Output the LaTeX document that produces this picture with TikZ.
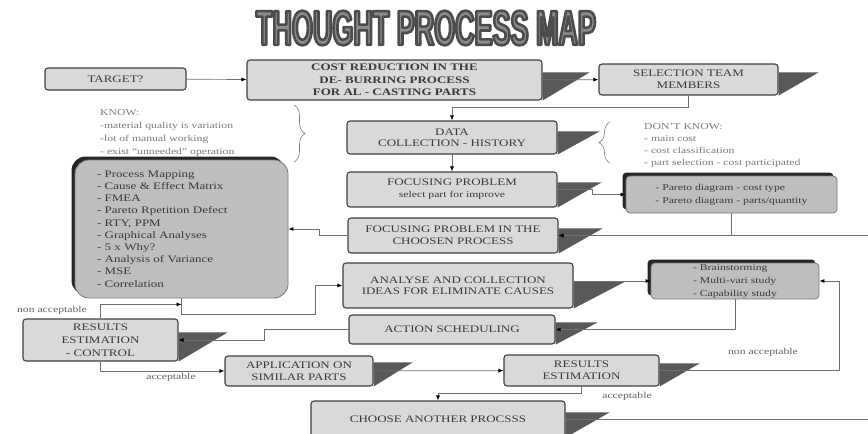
\documentclass[tikz,border=0pt]{standalone}
\usepackage{fontspec}
\setmainfont{Liberation Serif}[FakeStretch=1.3]
\newfontfamily\titlefont{Liberation Sans Bold}[FakeStretch=0.55]
\usetikzlibrary{arrows.meta,backgrounds,shadows,decorations.pathreplacing}

\definecolor{boxfill}{HTML}{D9D9D9}
\definecolor{boxline}{HTML}{404040}
\definecolor{wedgefill}{HTML}{595959}
\definecolor{listfill}{HTML}{BEBEBE}
\definecolor{wire}{HTML}{707070}
\definecolor{inktext}{HTML}{3A3A3A}
\definecolor{softtext}{HTML}{7A7A7A}
\definecolor{titleface}{HTML}{8C8C8C}

\tikzset{
  titleink/.style={inner sep=0pt, font=\titlefont\fontsize{49}{49}\selectfont},
  procbox/.style={rectangle, rounded corners=3pt, draw=boxline, line width=1.1pt, fill=boxfill,
    text=inktext, align=center, inner sep=0pt, font=\fontsize{10}{12}\selectfont},
  listbox/.style={rectangle, rounded corners=4pt, draw=boxline!70, line width=0.8pt, fill=listfill,
    text=inktext, align=left, inner sep=0pt, font=\fontsize{9}{13}\selectfont,
    drop shadow={shadow xshift=-3.5pt, shadow yshift=3.5pt, fill=black!85, opacity=1}},
  wedge/.style={fill=wedgefill},
  conn/.style={draw=wire, line width=0.7pt, -{Latex[length=5pt,width=4pt,color=black]}},
  note/.style={text=softtext, align=left, inner sep=0pt, font=\fontsize{9}{13}\selectfont},
  tag/.style={text=inktext!80, inner sep=0pt, font=\fontsize{9}{10}\selectfont},
  curly/.style={draw=softtext, line width=0.6pt, decorate, decoration={brace, amplitude=11pt}}
}

% outlined letters: grey face, dark rim
\newcommand{\rimtext}[1]{\special{pdf:literal direct 2 Tr 2.6 w 0.3 G 1 j}#1\special{pdf:literal direct 0 Tr}}
% dark wedge to the right of a box: node, drop from top, length
\newcommand{\wedgeshade}[3]{\fill[wedge] ([yshift=-#2pt]#1.north east) -- ++(#3,0) -- (#1.south east) -- cycle;}

\begin{document}
\begin{tikzpicture}[x=1pt, y=-1pt]
  \useasboundingbox (0,0) rectangle (868,434);
  \clip (0,0) rectangle (868,434);

  % TITLE
  \node[titleink, text=titleface] (title) at (426,28) {\rimtext{THOUGHT PROCESS MAP}};

  % TOP ROW
  \node[procbox, minimum width=141, minimum height=22] (target) at (115.5,79) {TARGET?};
  \node[procbox, minimum width=295, minimum height=40, font=\bfseries\fontsize{10}{12.5}\selectfont] (cost) at (394.5,80)
    {COST REDUCTION IN THE\\DE- BURRING PROCESS\\FOR AL - CASTING PARTS};
  \node[procbox, minimum width=179, minimum height=31] (sel) at (688.5,79.5) {SELECTION TEAM\\MEMBERS};

  \node[note, anchor=north west] (know) at (100,109)
    {KNOW:\\-material quality is variation\\-lot of manual working\\- exist ``unneeded'' operation};
  \draw[curly] (294,105) -- (294,162);

  % MIDDLE COLUMN
  \node[procbox, minimum width=210, minimum height=33, font=\fontsize{10}{11.5}\selectfont] (data) at (452,137.5) {DATA\\COLLECTION - HISTORY};
  \node[procbox, minimum width=210, minimum height=35] (foc) at (452,189.5)
    {FOCUSING PROBLEM\\{\fontsize{9}{12}\selectfont select part for improve}};
  \node[procbox, minimum width=210, minimum height=35] (focch) at (453,235.5) {FOCUSING PROBLEM IN THE\\CHOOSEN PROCESS};
  \node[procbox, minimum width=230, minimum height=45, font=\fontsize{10}{11.5}\selectfont] (analyse) at (458,285.5)
    {ANALYSE AND COLLECTION\\IDEAS FOR ELIMINATE CAUSES};
  \node[procbox, minimum width=206, minimum height=29] (action) at (452,329.5) {ACTION SCHEDULING};

  \draw[curly] (610,163) -- (610,122);
  \node[note, anchor=north west, font=\fontsize{9}{12}\selectfont] (dontknow) at (644,123)
    {DON'T KNOW:\\- main cost\\- cost classification\\- part selection - cost participated};

  % TOOL LISTS
  \node[listbox, rounded corners=14pt, minimum width=213, minimum height=138, text width=169,
    font=\fontsize{10}{12.2}\selectfont] (tools) at (181.5,229)
    {- Process Mapping\\- Cause \& Effect Matrix\\- FMEA\\- Pareto Rpetition Defect\\- RTY, PPM\\- Graphical Analyses\\- 5 x Why?\\- Analysis of Variance\\- MSE\\- Correlation};
  \node[listbox, minimum width=211, minimum height=37] (pareto) at (731.5,194.5)
    {- Pareto diagram - cost type\\- Pareto diagram - parts/quantity};
  \node[listbox, minimum width=168, minimum height=36] (brain) at (735,281)
    {- Brainstorming\\- Multi-vari study\\- Capability study};

  % BOTTOM
  \node[procbox, minimum width=155, minimum height=42, font=\fontsize{10}{13}\selectfont] (resctrl) at (100.5,340)
    {RESULTS\\ESTIMATION\\- CONTROL};
  \node[procbox, minimum width=148, minimum height=30] (appl) at (299,371) {APPLICATION ON\\SIMILAR PARTS};
  \node[procbox, minimum width=155, minimum height=31] (resest) at (581.5,370.5) {RESULTS\\ESTIMATION};
  \node[procbox, minimum width=254, minimum height=36] (choose) at (438,419) {CHOOSE ANOTHER PROCSSS};

  \begin{pgfonlayer}{background}
    \wedgeshade{cost}{13}{47}
    \wedgeshade{sel}{9}{40}
    \wedgeshade{data}{11}{42}
    \wedgeshade{foc}{11}{44}
    \wedgeshade{focch}{11}{44}
    \wedgeshade{analyse}{19}{52}
    \wedgeshade{action}{8}{42}
    \wedgeshade{resctrl}{14}{49}
    \wedgeshade{appl}{7}{39}
    \wedgeshade{resest}{9}{40}
    \wedgeshade{choose}{12}{44}
  \end{pgfonlayer}

  % CONNECTORS
  \draw[conn] (target) -- (cost);
  \draw[conn] (cost) -- (sel);
  \draw[conn] (sel.south) -- ++(0,12) -| (data.north);
  \draw[conn] (data) -- (foc);
  \draw[conn] (foc.east) -- ++(35,0) |- (pareto.west);
  \draw[conn] (pareto.south) |- (focch.east);
  \draw[conn] (choose.east) -- ++(340,0) |- (focch.east);
  \draw[conn] (focch.west) -- ++(-28,0) |- (tools.east);
  \draw[conn] (tools.south) |- ++(134,16) |- (analyse.west);
  \draw[conn] (analyse.east |- brain.west) -- (brain.west);
  \draw[conn] (brain.south) |- (action.east);
  \draw[conn] (action.west) -- ++(-84,0) |- (resctrl.east);

  \coordinate (joinpt) at ([yshift=-6pt]tools.south);
  \draw[conn] (resctrl.north) |- (joinpt);
  \node[tag] (nonacc1) at (52,310) {non acceptable};

  \draw[conn] (resctrl.south) |- (appl.west);
  \node[tag] (acc1) at (171,377) {acceptable};
  \draw[conn] (appl) -- (resest);

  \draw[conn] (resest.east) -- ++(180,0) |- (brain.east);
  \node[tag] (nonacc2) at (763,352) {non acceptable};
  \draw[conn] (resest.south) -- ++(0,7) -| (choose.north);
  \node[tag] (acc2) at (627,396) {acceptable};

\end{tikzpicture}
\end{document}
